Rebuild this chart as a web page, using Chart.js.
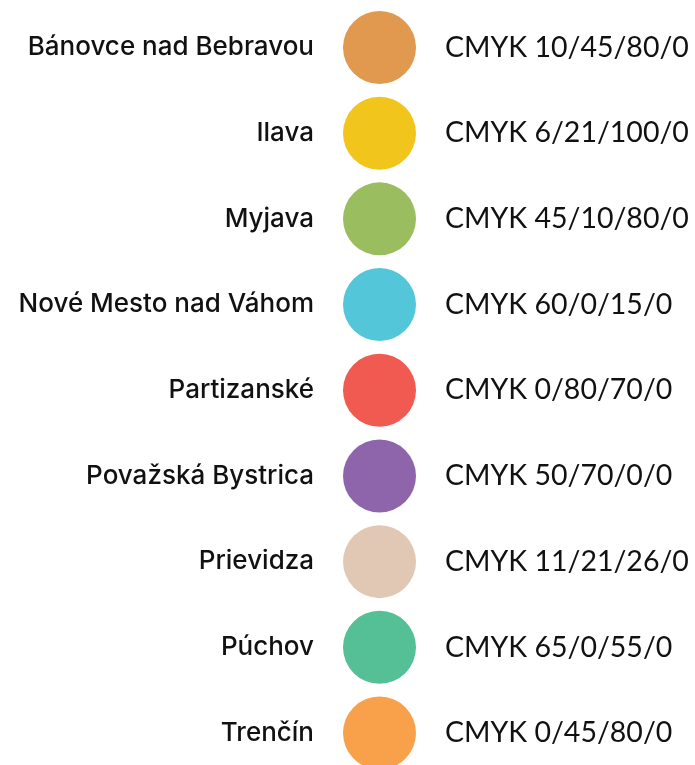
<!DOCTYPE html>
<html>
<head>
<meta charset="utf-8">
<script src="https://cdn.jsdelivr.net/npm/chart.js@4/dist/chart.umd.min.js"></script>
<style>
html,body{margin:0;padding:0;background:#fff;overflow:hidden;}
canvas{display:block;}
</style>
</head>
<body>
<canvas id="c" width="695" height="765"></canvas>
<script>
const districts = ["Bánovce nad Bebravou","Ilava","Myjava","Nové Mesto nad Váhom","Partizanské","Považská Bystrica","Prievidza","Púchov","Trenčín"];
const cmykLabels = ["CMYK 10/45/80/0","CMYK 6/21/100/0","CMYK 45/10/80/0","CMYK 60/0/15/0","CMYK 0/80/70/0","CMYK 50/70/0/0","CMYK 11/21/26/0","CMYK 65/0/55/0","CMYK 0/45/80/0"];
const swatchColors = ["#E0994F","#F1C51B","#9ABD60","#53C6D9","#F15A50","#8E65AB","#E0C8B5","#55BF96","#F8A04A"];
const rowIndex = [0,1,2,3,4,5,6,7,8];

const points = rowIndex.map(i => ({x: 0, y: i}));

function fixBox(s, w) {
  s.width = w;
  s.paddingTop = 0; s.paddingBottom = 0;
}

new Chart(document.getElementById('c'), {
  type: 'scatter',
  data: {
    datasets: [{
      data: points,
      backgroundColor: swatchColors,
      borderWidth: 0,
      pointRadius: 36.5,
      pointHoverRadius: 36.5,
      clip: false
    }]
  },
  options: {
    responsive: false,
    animation: false,
    events: [],
    layout: {padding: 0, autoPadding: false},
    plugins: {legend: {display: false}, tooltip: {enabled: false}},
    scales: {
      x: {type: 'linear', min: -1, max: 1, display: false},
      y: {
        type: 'linear', position: 'left', reverse: true,
        min: -0.554, max: 8.373,
        afterBuildTicks: s => { s.ticks = rowIndex.map(v => ({value: v})); },
        afterFit: s => fixBox(s, 320),
        grid: {display: false, drawTicks: false}, border: {display: false},
        ticks: {
          padding: 6, color: '#111',
          font: {family: 'Inter', size: 26, weight: '500'},
          callback: v => districts[v]
        }
      },
      y2: {
        type: 'linear', position: 'right', reverse: true,
        min: -0.554, max: 8.373,
        afterBuildTicks: s => { s.ticks = rowIndex.map(v => ({value: v})); },
        afterFit: s => fixBox(s, 256),
        grid: {display: false, drawTicks: false}, border: {display: false},
        ticks: {
          padding: 6, color: '#111',
          font: {family: 'Lato', size: 28.5},
          callback: v => cmykLabels[v]
        }
      }
    }
  }
});
</script>
</body>
</html>
